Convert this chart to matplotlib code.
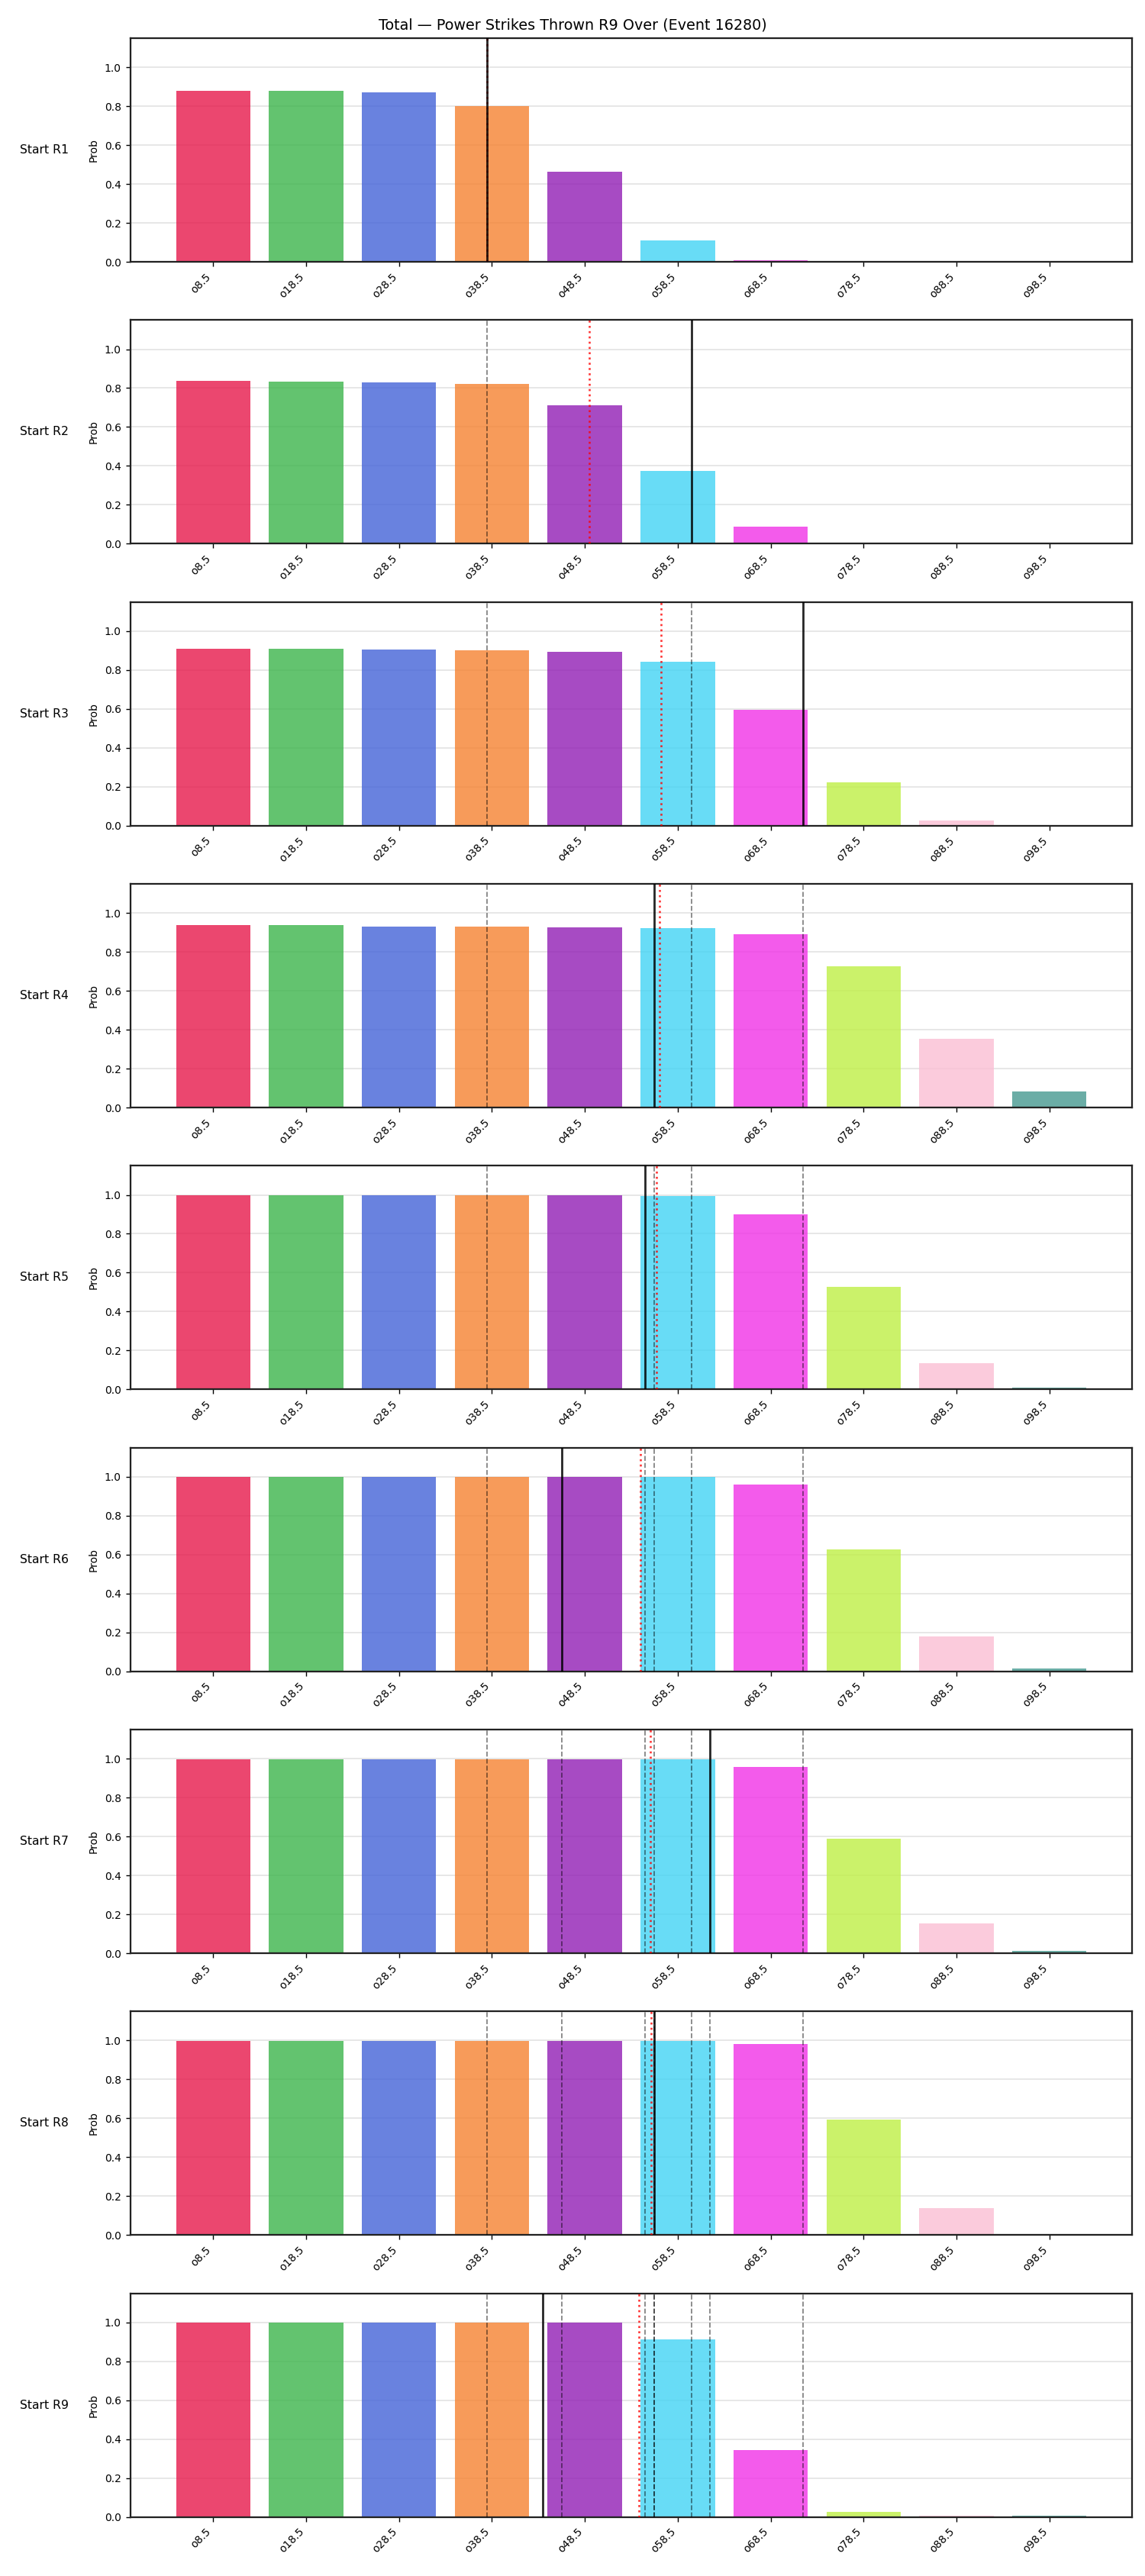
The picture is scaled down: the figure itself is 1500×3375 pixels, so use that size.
import matplotlib
matplotlib.use("Agg")
import matplotlib.pyplot as plt
import numpy as np

event_id = 16280
title = "Total \u2014 Power Strikes Thrown R9 Over (Event %d)" % event_id

lines = [8.5, 18.5, 28.5, 38.5, 48.5, 58.5, 68.5, 78.5, 88.5, 98.5]
tick_labels = ["o%g" % l for l in lines]
colors = ["#e6194b", "#3cb44b", "#4363d8", "#f58231", "#911eb4",
          "#42d4f4", "#f032e6", "#bfef45", "#fabed4", "#469990"]

# strikes actually thrown in each round (black line = current, grey = earlier)
thrown = [38, 60, 72, 56, 55, 46, 62, 56, 44]

# P(over) per line, at the start of each round
probs = [
    [0.879, 0.879, 0.872, 0.801, 0.463, 0.109, 0.007, 0.005, 0.004, 0.006],
    [0.836, 0.832, 0.828, 0.822, 0.713, 0.374, 0.086, 0.007, 0.005, 0.006],
    [0.911, 0.909, 0.907, 0.901, 0.895, 0.843, 0.597, 0.224, 0.026, 0.003],
    [0.938, 0.938, 0.931, 0.931, 0.925, 0.921, 0.891, 0.726, 0.353, 0.081],
    [0.998, 0.998, 0.998, 0.998, 0.998, 0.993, 0.899, 0.528, 0.133, 0.011],
    [0.998, 0.998, 0.998, 0.998, 0.998, 0.998, 0.961, 0.628, 0.180, 0.014],
    [0.998, 0.998, 0.998, 0.998, 0.998, 0.998, 0.958, 0.587, 0.153, 0.011],
    [0.998, 0.998, 0.998, 0.998, 0.998, 0.998, 0.982, 0.592, 0.140, 0.007],
    [0.998, 0.998, 0.998, 0.998, 0.998, 0.914, 0.345, 0.025, 0.005, 0.007],
]


def to_pos(v):
    # map a strike count onto the bar index axis
    return (v - lines[0]) / (lines[1] - lines[0])


n = len(probs)
fig, axes = plt.subplots(n, 1, figsize=(12, 27), dpi=125)
fig.subplots_adjust(left=0.114, right=0.9887, top=0.9852, bottom=0.0229, hspace=0.26)
x = np.arange(len(lines))

for i, ax in enumerate(axes):
    ax.set_axisbelow(True)
    ax.grid(axis="y", color="#dddddd", lw=1.0, alpha=0.8)
    ax.bar(x, probs[i], color=colors, alpha=0.8, width=0.8, zorder=2)
    for v in thrown[:i]:
        ax.axvline(to_pos(v), color="black", ls="--", lw=1.0, alpha=0.5, zorder=3)
    ax.axvline(to_pos(np.mean(thrown[:i + 1])), color="red", ls=":", lw=1.5, alpha=0.8, zorder=4)
    ax.axvline(to_pos(thrown[i]), color="black", lw=1.6, alpha=0.85, zorder=5)

    ax.set_ylim(0, 1.15)
    ax.set_xticks(x)
    ax.set_xticklabels(tick_labels, rotation=45, ha="right", fontsize=8)
    ax.tick_params(axis="y", labelsize=8)
    ax.set_ylabel("Prob", fontsize=8)
    for s in ax.spines.values():
        s.set_linewidth(1.3)
        s.set_color("#222222")
    ax.text(-0.062, 0.5, "Start R%d" % (i + 1), transform=ax.transAxes,
            ha="right", va="center", fontsize=9)

fig.suptitle(title, fontsize=11, y=0.993)
fig.savefig("out.png", dpi=125)
